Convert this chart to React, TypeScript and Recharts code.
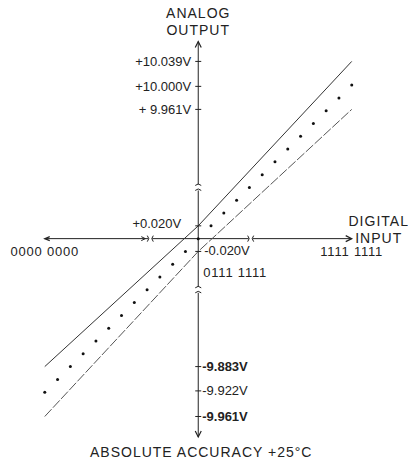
import { ComposedChart, XAxis, YAxis, Line, Scatter, ReferenceLine, ReferenceDot } from 'recharts';

// digital code steps (0 = 0111 1111) and ideal analog output at each step
const codeSteps = [-12, -11, -10, -9, -8, -7, -6, -5, -4, -3, -2, -1, 0, 1, 2, 3, 4, 5, 6, 7, 8, 9, 10, 11, 12];
const outputLevels = [-12, -11, -10, -9, -8, -7, -6, -5, -4, -3, -2, -1, 0, 1, 2, 3, 4, 5, 6, 7, 8, 9, 10, 11, 12];

// accuracy band limits
const bandCodes = [-12, 0, 12];
const upperLimit = [-10, 1, 13.85];
const lowerLimit = [-13.9, -1, 10.1];

// analog output tick marks
const outputTicks = [13.85, 11.9, 10.1, 1, -1, -10, -11.9, -13.9];
const outputTickLabels = ['+10.039V', '+10.000V', '+ 9.961V', '+0.020V', '-0.020V', '-9.883V', '-9.922V', '-9.961V'];

// digital input codes
const inputCodes = [-12, 0, 12];
const inputCodeLabels = ['0000 0000', '0111 1111', '1111 1111'];

const outputBreaks = [4, -4];
const inputBreaks = [-3.75, 4.1];
const outputAxisEnds = [15.4, -15.5];
const inputAxisEnds = [-12, 12];

const dots = codeSteps.map((x, i) => ({ x, y: outputLevels[i] }));
const upper = bandCodes.map((x, i) => ({ x, y: upperLimit[i] }));
const lower = bandCodes.map((x, i) => ({ x, y: lowerLimit[i] }));

const INK = '#222';
const FONT = '"Liberation Sans", Arial, Helvetica, sans-serif';
const boldLabels = ['-9.883V', '-9.961V'];

const tickLabelShape = (i: number) => (p: any) => {
  const { cx, cy } = p;
  const label = outputTickLabels[i];
  const left = outputTicks[i] > 0;
  const near = Math.abs(outputTicks[i]) < 2;
  const tx = left ? cx - (near ? 17 : 7) : cx + (near ? 6 : 4);
  const ty = near ? cy + (left ? -2 : -1) : cy;
  return (
    <g>
      <line x1={cx - 3} y1={cy} x2={cx + 3} y2={cy} stroke={INK} strokeWidth={1} />
      <text
        x={tx}
        y={ty}
        textAnchor={left ? 'end' : 'start'}
        dominantBaseline="central"
        fontSize={13}
        fontFamily={FONT}
        fontWeight={boldLabels.includes(label) ? 700 : 400}
        fill={INK}
      >
        {label}
      </text>
    </g>
  );
};

const codeLabelShape = (i: number) => (p: any) => {
  const { cx, cy } = p;
  const centre = inputCodes[i] === 0;
  return (
    <text
      x={centre ? cx + 5 : cx}
      y={centre ? cy + 34 : cy + 13}
      textAnchor={centre ? 'start' : 'middle'}
      dominantBaseline="central"
      fontSize={13}
      letterSpacing={0.8}
      fontFamily={FONT}
      fill={INK}
    >
      {inputCodeLabels[i]}
    </text>
  );
};

const vBreakShape = (p: any) => {
  const { cx, cy } = p;
  return (
    <g>
      <rect x={cx - 2} y={cy - 3} width={4} height={6} fill="#fff" />
      <path d={`M${cx - 3} ${cy - 2} Q${cx} ${cy - 5} ${cx + 3} ${cy - 2}`} stroke={INK} fill="none" strokeWidth={1} />
      <path d={`M${cx - 3} ${cy + 3} Q${cx} ${cy} ${cx + 3} ${cy + 3}`} stroke={INK} fill="none" strokeWidth={1} />
    </g>
  );
};

const hBreakShape = (withArrow: boolean) => (p: any) => {
  const { cx, cy } = p;
  return (
    <g>
      <rect x={cx - 2} y={cy - 2} width={4} height={4} fill="#fff" />
      <path d={`M${cx - 3} ${cy - 3} Q${cx} ${cy} ${cx - 3} ${cy + 3}`} stroke={INK} fill="none" strokeWidth={1} />
      <path d={`M${cx + 3} ${cy - 3} Q${cx} ${cy} ${cx + 3} ${cy + 3}`} stroke={INK} fill="none" strokeWidth={1} />
      {withArrow && (
        <path d={`M${cx - 9} ${cy - 2} L${cx - 5} ${cy} L${cx - 9} ${cy + 2}`} stroke={INK} fill="none" strokeWidth={1} />
      )}
    </g>
  );
};

const arrowShape = (dir: 'up' | 'down' | 'left' | 'right') => (p: any) => {
  const { cx, cy } = p;
  const d =
    dir === 'up'
      ? `M${cx - 3} ${cy + 6} L${cx} ${cy} L${cx + 3} ${cy + 6}`
      : dir === 'down'
        ? `M${cx - 3} ${cy - 6} L${cx} ${cy} L${cx + 3} ${cy - 6}`
        : dir === 'right'
          ? `M${cx - 6} ${cy - 3} L${cx} ${cy} L${cx - 6} ${cy + 3}`
          : `M${cx + 5} ${cy - 2} L${cx} ${cy} L${cx + 5} ${cy + 2}`;
  return <path d={d} stroke={INK} fill="none" strokeWidth={1.2} />;
};

const titleShape = (lines: string[], dx: number, dys: number[]) => (p: any) => {
  const { cx, cy } = p;
  return (
    <g>
      {lines.map((t, i) => (
        <text
          key={t}
          x={cx + dx}
          y={cy + dys[i]}
          textAnchor="middle"
          fontSize={14}
          letterSpacing={1}
          fontFamily={FONT}
          fill={INK}
        >
          {t}
        </text>
      ))}
    </g>
  );
};

export default function App() {
  return (
    <div style={{ position: 'absolute', left: 0, top: 0, width: 408, height: 460, background: '#fff' }}>
      <ComposedChart width={408} height={460} margin={{ top: 0, right: 0, bottom: 0, left: 0 }}>
        <XAxis type="number" dataKey="x" domain={[-15.5, 16.4]} allowDataOverflow hide />
        <YAxis type="number" dataKey="y" domain={[-17.3, 18.65]} allowDataOverflow hide />

        <ReferenceLine
          segment={[{ x: 0, y: outputAxisEnds[0] }, { x: 0, y: outputAxisEnds[1] }]}
          stroke={INK}
          strokeWidth={1}
          ifOverflow="visible"
        />
        <ReferenceLine
          segment={[{ x: inputAxisEnds[0], y: 0 }, { x: inputAxisEnds[1], y: 0 }]}
          stroke={INK}
          strokeWidth={1}
          ifOverflow="visible"
        />

        <Line
          data={upper}
          dataKey="y"
          stroke="#333"
          strokeWidth={1}
          dot={false}
          activeDot={false}
          isAnimationActive={false}
        />
        <Line
          data={lower}
          dataKey="y"
          stroke="#555"
          strokeWidth={1}
          strokeDasharray="10 2"
          dot={false}
          activeDot={false}
          isAnimationActive={false}
        />
        <Scatter
          data={dots}
          fill="#111"
          shape={(p: any) => <circle cx={p.cx} cy={p.cy} r={1.5} fill="#111" />}
          isAnimationActive={false}
        />

        {outputBreaks.map((y) => (
          <ReferenceDot key={`vb${y}`} x={0} y={y} shape={vBreakShape} ifOverflow="visible" />
        ))}
        {inputBreaks.map((x, i) => (
          <ReferenceDot key={`hb${x}`} x={x} y={0} shape={hBreakShape(i === 0)} ifOverflow="visible" />
        ))}

        <ReferenceDot x={0} y={outputAxisEnds[0]} shape={arrowShape('up')} ifOverflow="visible" />
        <ReferenceDot x={0} y={outputAxisEnds[1]} shape={arrowShape('down')} ifOverflow="visible" />
        <ReferenceDot x={inputAxisEnds[1]} y={0} shape={arrowShape('right')} ifOverflow="visible" />
        <ReferenceDot x={inputAxisEnds[0]} y={0} shape={arrowShape('left')} ifOverflow="visible" />

        {outputTicks.map((v, i) => (
          <ReferenceDot key={`t${i}`} x={0} y={v} shape={tickLabelShape(i)} ifOverflow="visible" />
        ))}
        {inputCodes.map((c, i) => (
          <ReferenceDot key={`c${i}`} x={c} y={0} shape={codeLabelShape(i)} ifOverflow="visible" />
        ))}

        <ReferenceDot x={0} y={outputAxisEnds[0]} shape={titleShape(['ANALOG', 'OUTPUT'], 0, [-24, -7])} ifOverflow="visible" />
        <ReferenceDot x={inputAxisEnds[1]} y={0} shape={titleShape(['DIGITAL', 'INPUT'], 27, [-13, 4])} ifOverflow="visible" />
        <ReferenceDot x={0} y={outputAxisEnds[1]} shape={titleShape(['ABSOLUTE ACCURACY +25°C'], 3, [20])} ifOverflow="visible" />
      </ComposedChart>
    </div>
  );
}
